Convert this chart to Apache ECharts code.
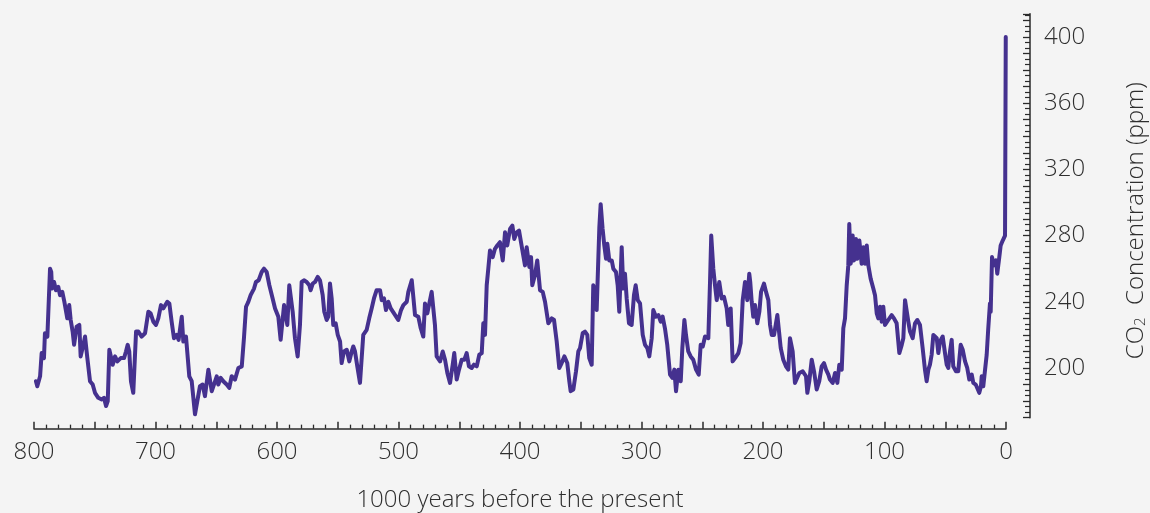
<!DOCTYPE html>
<html>
<head>
<meta charset="utf-8">
<script src="https://cdn.jsdelivr.net/npm/echarts@6/dist/echarts.min.js"></script>
<style>
html,body{margin:0;padding:0;background:#f4f4f4;}
#chart{width:1150px;height:513px;}
</style>
</head>
<body>
<div id="chart"></div>
<script>
// thousand years before present
var years = [798.4,797.3,795,793.7,791.8,791,789,788.2,786.8,785.8,785.2,783.5,781.9,780,778.6,776.7,775,772.6,771,769.8,768.2,767,764.9,762.7,761.6,759.4,758,756.1,753.9,751.7,749.8,747.1,744.3,742.4,740.7,739.3,738,736.6,735.2,733.3,731.4,728.6,725.9,724.3,722.9,721.6,720.2,718.3,716,714.1,711.4,708.6,705.9,704,701.8,699.6,697.7,695.5,693.6,690.3,688.6,686.7,684.8,682.6,681,678.4,677.1,674.9,672.2,670.2,667.5,665.6,663.4,661.2,659.3,656.5,653.7,651.9,649.6,648.3,646.3,644.2,641.4,639.3,637.3,634.6,631.8,629,627.2,625.5,623.6,621.7,618.9,617.3,615.1,612.6,610.7,608.5,606.3,603.6,601.6,
598.9,597,594.2,592.6,591.5,589.9,588.5,587.1,585.2,583,581.1,579.7,577.8,575.6,573.4,572.3,570.6,568.7,566.5,564.6,562.4,561.1,559.1,557.8,556.4,555,553.7,551.7,550,548.1,546.8,544.9,542.6,540.5,538.5,537.2,535.8,533.9,531.7,529,526.2,524.1,522.1,520.2,518,515.2,513.8,511.9,510.3,508.4,506.4,503.7,500.2,497.9,496,493.2,491.9,489.1,487.8,486.4,483.7,481.7,479.6,478.2,476.3,472.7,470,468.6,465.8,463.6,461.7,459.8,457.6,455.4,454.1,452.1,450.2,448,445.8,443.9,442,439.8,437.9,435.6,433.5,431.5,430.2,428.8,427.4,426.1,424.7,422.5,420.6,418.7,416.5,414.2,412.3,410.5,408.2,406.3,404.7,
402.7,400.8,399.4,397.8,395.9,394.5,392.3,390.9,389.9,387.7,385.8,383.5,381.3,379.4,376.7,373.9,372,369.8,367.7,365.7,363.5,361.1,359.4,358.3,356.1,353.9,352,350.6,348.4,346.5,344.6,343,341,339.7,338.3,336.9,334.7,333.6,332,330.6,329.2,328.1,326.5,324.5,323.2,321,319.6,318.3,316.3,315,313.6,312.2,310.3,308.1,306.2,304.8,303.1,301.2,299,297.1,295.2,293.6,291.6,290.3,288.1,286.1,284.2,282.6,280.7,278.8,276.5,274.6,273,271.6,269.7,267.7,266.4,264.7,263.4,261.5,259.5,257.4,255.1,252.9,251.3,249.6,247.7,245,243.6,242.6,240.9,239.5,238.1,236,234,232.1,229.9,228.6,226.6,225,223,220.3,218.4,216.7,214.8,212.9,211.3,210.5,209.3,
208,206.6,204.7,203,201.6,199.2,197.5,195.6,194.2,192.8,190.9,189.3,188.2,186.6,185.4,183.3,181.1,179.2,177.8,175.6,173.7,172.3,170.1,167.3,164.6,163.5,161.9,159.9,158,155.8,153.7,151.7,149.8,148.1,146.2,144.9,142.6,140.7,138.8,137.2,135.2,133.9,132.5,131.1,129.8,129,127.8,126.2,125.1,123.5,122.4,120.7,118.8,117.4,116,114.6,113.3,111.4,109.2,107.8,106.4,105.1,103.7,102.3,101,99.6,96.9,94.1,92.2,90,87.8,85.8,84.5,83.1,81.7,80.4,79,76.8,74.9,73,70.8,68.6,66.7,65.3,63.9,62.6,61.2,59.8,58.4,57,55.7,54.3,52.1,50.2,48.8,47.5,46.1,44.7,43.4,41.2,39.3,37.3,35.6,33.7,31.9,30.2,28.2,26.9,24.9,23.3,22,20.6,20,18.7,17.3,15.9,14.6,13.2,12.6,11.5,9.9,8.2,7.2,5.5,4.4,2.7,0.8,0.4,0.2];
// CO2 concentration, ppm
var co2 = [192,189,195,209,206,221,219,234,260,258,248,252,247,249,244,246,240,230,238,229,222,214,225,226,207,214,219,206,192,190,185,182,181,182,177,180,211,212,202,207,204,206,206,210,214,210,192,185,222,222,219,221,234,233,228,226,230,238,236,240,239,228,218,220,217,231,216,219,195,192,172,180,189,190,183,199,186,190,195,190,194,192,190,188,195,193,200,201,218,237,240,244,248,252,253,258,260,258,250,242,236,
231,217,238,239,226,250,250,234,218,207,226,252,253,252,250,247,251,252,255,253,244,234,229,231,251,242,226,227,220,216,203,210,211,204,210,213,210,201,191,220,223,230,236,242,247,247,241,242,235,240,236,233,229,235,238,240,246,253,243,232,231,224,219,239,233,246,226,207,204,210,205,197,191,202,209,193,199,205,205,209,201,200,202,201,208,209,227,220,250,260,271,267,272,274,276,265,282,274,284,286,278,
282,283,277,277,262,273,261,267,250,256,265,247,246,240,227,230,229,216,200,203,207,203,192,186,187,198,210,212,221,222,220,206,202,250,246,235,285,299,284,274,266,275,265,265,260,258,250,234,273,248,257,242,227,226,244,250,241,239,220,214,212,207,218,235,231,232,228,231,224,214,196,194,199,186,199,192,212,229,220,210,207,205,199,196,214,213,219,218,252,280,260,250,241,252,242,243,236,226,236,204,206,209,215,241,252,241,257,252,240,
231,238,227,234,246,251,246,241,226,220,220,219,232,231,212,205,201,199,218,210,191,190,197,198,195,185,192,205,198,187,192,201,203,199,196,193,191,197,191,202,199,224,230,250,262,287,263,280,265,278,266,277,263,273,263,274,262,254,248,244,233,230,237,228,237,226,229,232,230,227,209,214,218,241,241,228,222,218,227,229,226,212,199,192,199,202,208,220,221,218,209,216,219,209,202,200,210,217,201,198,198,214,211,204,200,193,196,191,190,189,185,189,195,189,189,208,224,239,234,267,262,265,257,267,274,277,280,280,400];

var xTicks = {min: 0, max: 800, interval: 50, labelStep: 100};
var yTicks = {min: 170, max: 414, interval: 10, labelStep: 40, labelFrom: 200};

var font = 'Open Sans';
var textColor = '#2e2e2e';
var axisColor = '#2a2a2a';
var gTop = 13.8, gBottom = 95.35;

var chart = echarts.init(document.getElementById('chart'), null, {renderer: 'canvas'});
chart.setOption({
  backgroundColor: '#f4f4f4',
  animation: false,
  grid: [
    {left: 34, right: 144, top: gTop, bottom: gBottom, containLabel: false, outerBoundsMode: 'none'},
    {left: 34, right: 120, top: gTop, bottom: gBottom, containLabel: false, outerBoundsMode: 'none'}
  ],
  xAxis: [{
    gridIndex: 0,
    type: 'value',
    inverse: true,
    min: xTicks.min, max: xTicks.max, interval: xTicks.interval,
    position: 'bottom',
    offset: 11,
    axisLine: {show: true, onZero: false, lineStyle: {color: axisColor, width: 1.5}},
    axisTick: {show: true, inside: true, length: 7, lineStyle: {color: axisColor, width: 1.5}},
    minorTick: {show: true, splitNumber: 5, length: 4, lineStyle: {color: axisColor, width: 1.3}},
    splitLine: {show: false},
    minorSplitLine: {show: false},
    axisLabel: {
      margin: 12,
      fontSize: 24, fontFamily: font, fontWeight: 300, color: textColor,
      formatter: function (v) { return v % xTicks.labelStep === 0 ? String(v) : ''; }
    },
    name: '1000 years before the present',
    nameLocation: 'middle',
    nameGap: 60,
    nameTextStyle: {fontSize: 24, fontFamily: font, fontWeight: 300, color: textColor}
  }, {
    gridIndex: 1,
    type: 'value',
    show: false,
    min: 0, max: 1
  }],
  yAxis: [{
    gridIndex: 0,
    type: 'value',
    show: false,
    min: yTicks.min, max: yTicks.max
  }, {
    gridIndex: 1,
    type: 'value',
    position: 'right',
    min: yTicks.min, max: yTicks.max, interval: yTicks.interval,
    axisLine: {show: true, onZero: false, lineStyle: {color: axisColor, width: 1.5}},
    axisTick: {show: true, inside: true, length: 7, lineStyle: {color: axisColor, width: 1.3}},
    minorTick: {show: true, splitNumber: 3, length: 5, lineStyle: {color: axisColor, width: 1.2}},
    splitLine: {show: false},
    minorSplitLine: {show: false},
    axisLabel: {
      margin: 14,
      fontSize: 24, fontFamily: font, fontWeight: 300, color: textColor,
      formatter: function (v) { return (v >= yTicks.labelFrom && v % yTicks.labelStep === 0) ? String(v) : ''; }
    },
    name: '{a|CO}{s|2}{a|  Concentration (ppm)}',
    nameLocation: 'middle',
    nameRotate: 90,
    nameGap: 88,
    nameMoveOverlap: false,
    nameTextStyle: {
      color: textColor,
      padding: [0, 10, 0, 0],
      rich: {
        a: {fontSize: 24, fontFamily: font, fontWeight: 300, color: textColor, lineHeight: 30, verticalAlign: 'bottom'},
        s: {fontSize: 15, fontFamily: font, fontWeight: 300, color: textColor, lineHeight: 24, verticalAlign: 'bottom'}
      }
    }
  }],
  series: [{
    type: 'line',
    xAxisIndex: 0,
    yAxisIndex: 0,
    data: years.map(function (y, i) { return [y, co2[i]]; }),
    showSymbol: false,
    symbol: 'none',
    lineStyle: {color: '#45318f', width: 4, join: 'round', cap: 'round'},
    clip: false
  }]
});
</script>
</body>
</html>
